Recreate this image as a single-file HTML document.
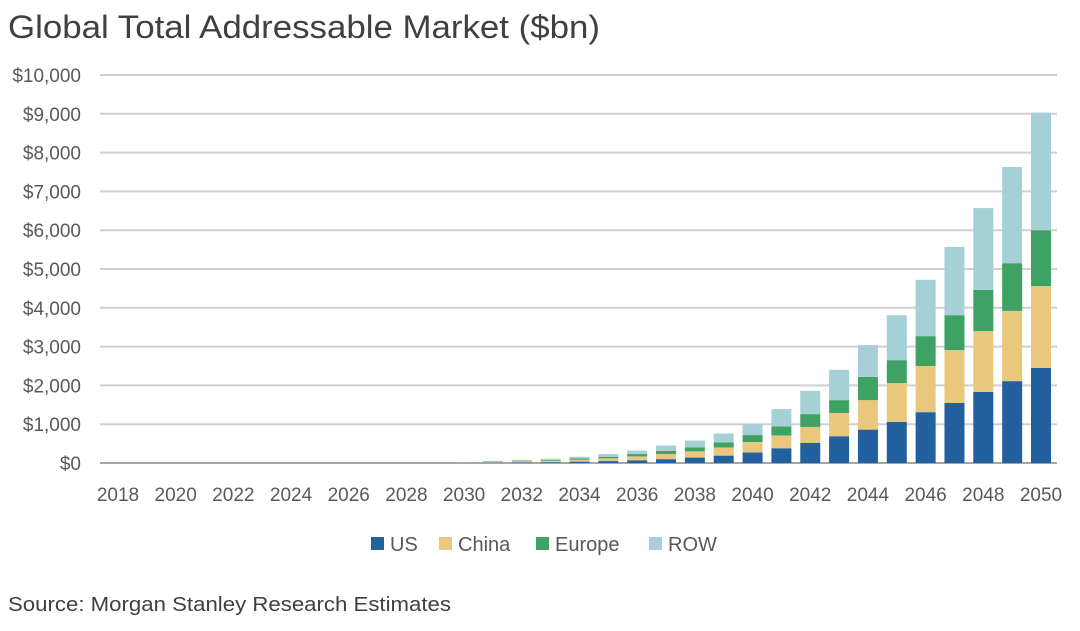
<!DOCTYPE html>
<html><head><meta charset="utf-8"><style>
body{margin:0;background:#fff;width:1080px;height:626px;overflow:hidden;font-family:"Liberation Sans",sans-serif}
</style></head><body>
<svg width="1080" height="626" id="svg" font-family="Liberation Sans, sans-serif">
<text x="8" y="38" font-size="32" fill="#404040" textLength="592" lengthAdjust="spacingAndGlyphs">Global Total Addressable Market ($bn)</text>
<g id="grid"></g><g id="bars"></g><g id="xl"></g><g id="yl"></g>
<g font-size="20" fill="#595959">
<g><rect x="371" y="537" width="13" height="13" fill="#2360a0"/><text x="390" y="551">US</text></g>
<g><rect x="439" y="537" width="13" height="13" fill="#e9c77c"/><text x="458" y="551">China</text></g>
<g><rect x="536" y="537" width="13" height="13" fill="#3fa265"/><text x="555" y="551">Europe</text></g>
<g><rect x="649" y="537" width="13" height="13" fill="#a5d1d6"/><text x="668" y="551">ROW</text></g>
</g>
<text x="8" y="611" font-size="20" fill="#404040" textLength="443" lengthAdjust="spacingAndGlyphs">Source: Morgan Stanley Research Estimates</text>
</svg>
<script>
const years=[];for(let y=2018;y<=2050;y++)years.push(y);
const us=    [0,0,0,0,0,0,0,0,0,0,0,2,5,10,15,20,35,50,70,100,140,190,270,380,520,690,860,1060,1310,1550,1830,2110,2450];
const china= [0,0,0,0,0,0,0,0,0,0,0,3,15,20,30,40,50,70,100,130,160,210,270,330,410,600,760,1000,1190,1360,1570,1810,2110];
const europe=[0,0,0,0,0,0,0,0,0,0,0,2,5,10,15,20,30,40,60,80,100,130,180,230,330,330,600,590,770,900,1060,1230,1440];
const row=   [0,0,0,0,0,0,0,0,0,0,0,3,5,10,20,30,45,70,90,140,180,230,280,450,600,780,820,1160,1450,1760,2110,2480,3030];
const yTicks=[0,1000,2000,3000,4000,5000,6000,7000,8000,9000,10000];
const series=[["us",us,"#2360a0"],["china",china,"#e9c77c"],["europe",europe,"#3fa265"],["row",row,"#a5d1d6"]];
const NS="http://www.w3.org/2000/svg";
const y0=463,y1=75,left=100,right=1057;
const ys=v=>y0-(v/10000)*(y0-y1);
const xs=i=>118+i*(1041-118)/(years.length-1);
function mk(t,a,p){const e=document.createElementNS(NS,t);for(const k in a)e.setAttribute(k,a[k]);document.getElementById(p).appendChild(e);return e;}
yTicks.forEach(v=>{
 const l=mk("line",{x1:left,x2:right,y1:ys(v),y2:ys(v),stroke:v===0?"#a6a6a6":"#d0d0d0","stroke-width":2},"grid");
 
 
 const t=mk("text",{x:81,y:ys(v)+7,"text-anchor":"end","font-size":19,fill:"#595959"},"yl");
 t.textContent="$"+v.toLocaleString("en-US");
 
 
});
years.forEach((yr,i)=>{
 let acc=0;
 series.forEach(([n,arr,c])=>{
  const v=arr[i];if(v<=0)return;
  const r=mk("rect",{x:xs(i)-10,y:ys(acc+v),width:20,height:ys(acc)-ys(acc+v),fill:c},"bars");
  
  
  acc+=v;
 });
 if(yr%2===0){
  const t=mk("text",{x:xs(i),y:501,"text-anchor":"middle","font-size":19,fill:"#595959"},"xl");
  t.textContent=yr;
  
  
 }
});
</script>
</body></html>
